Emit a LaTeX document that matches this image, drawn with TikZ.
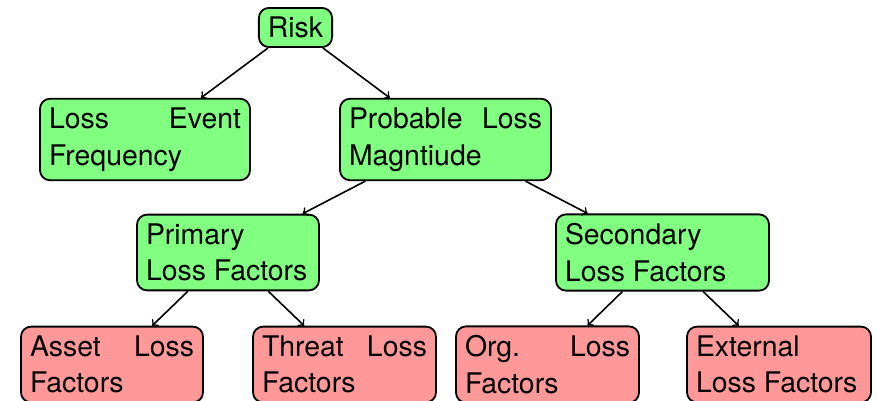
\documentclass[tikz,border=0pt]{standalone}
\usepackage{fontspec}
\setmainfont{TeX Gyre Heros}
\hyphenpenalty=10000
\newcommand\boxfont{\fontsize{14.2pt}{18.3pt}\selectfont}
\begin{document}
\begin{tikzpicture}[x=0.5pt,y=-0.5pt,
  box/.style={draw=black, line width=0.9pt, rounded corners=5pt,
    inner sep=4.5pt, font=\boxfont, align=justify},
  upper/.style={box, fill=green!50},
  lower/.style={box, fill=red!40},
  link/.style={->, line width=0.8pt}]
\useasboundingbox (0,0) rectangle (877,401);

% top levels
\node[upper] (risk) at (295.5,27.5) {Risk};
\node[upper, text width=96pt] (lef) at (145,139.5) {Loss Event Frequency};
\node[upper, text width=96.5pt] (plm) at (445.5,139.5) {Probable Loss Magntiude};
\node[upper, text width=82pt] (plf) at (228,252.5) {Primary\\Loss Factors};
\node[upper, text width=97.5pt] (slf) at (662.5,252.5) {Secondary\\Loss Factors};

% leaf factors
\node[lower, text width=82pt] (alf) at (112,364.5) {Asset Loss Factors};
\node[lower, text width=82.5pt] (tlf) at (344.5,364.5) {Threat Loss Factors};
\node[lower, text width=82.5pt] (olf) at (547.5,364.5) {Org. Loss Factors};
\node[lower, text width=83pt] (elf) at (779,364.5) {External Loss Factors};

% connectors
\draw[link] (risk) -- (lef);
\draw[link] (risk) -- (plm);
\draw[link] (plm) -- (plf);
\draw[link] (plm) -- (slf);
\draw[link] (plf) -- (alf);
\draw[link] (plf) -- (tlf);
\draw[link] (slf) -- (olf);
\draw[link] (slf) -- (elf);
\end{tikzpicture}
\end{document}
